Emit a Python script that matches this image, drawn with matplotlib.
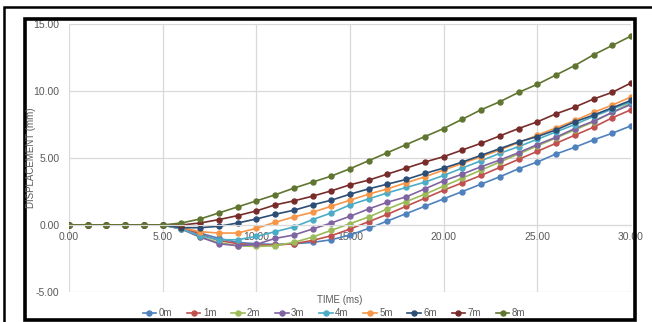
import matplotlib.pyplot as plt
from matplotlib.patches import Rectangle

plt.rcParams['font.family'] = ['Liberation Sans', 'DejaVu Sans']

# time steps (ms)
t = list(range(0, 31))
zeros = [0.0] * 6

d0 = zeros + [-0.15, -0.6, -1.0, -1.3, -1.4, -1.45, -1.4, -1.3, -1.1, -0.75,
              -0.25, 0.3, 0.85, 1.4, 1.95, 2.5, 3.05, 3.6, 4.2, 4.7,
              5.3, 5.8, 6.35, 6.85, 7.4]
d1 = zeros + [-0.2, -0.7, -1.15, -1.4, -1.5, -1.5, -1.4, -1.15, -0.8, -0.3,
              0.25, 0.8, 1.4, 2.0, 2.6, 3.15, 3.7, 4.3, 4.9, 5.5,
              6.1, 6.7, 7.3, 8.0, 8.6]
d2 = zeros + [-0.3, -0.9, -1.3, -1.55, -1.6, -1.55, -1.3, -0.9, -0.4, 0.1,
              0.6, 1.2, 1.75, 2.3, 2.9, 3.5, 4.1, 4.7, 5.3, 5.9,
              6.5, 7.1, 7.7, 8.4, 9.1]
d3 = zeros + [-0.3, -0.9, -1.4, -1.55, -1.45, -1.0, -0.75, -0.3, 0.15, 0.65,
              1.2, 1.7, 2.1, 2.7, 3.3, 3.8, 4.35, 4.85, 5.4, 6.0,
              6.55, 7.2, 7.75, 8.4, 9.0]
d4 = zeros + [-0.3, -0.8, -1.1, -1.1, -0.85, -0.5, -0.15, 0.4, 0.9, 1.5,
              1.95, 2.4, 2.8, 3.2, 3.7, 4.25, 4.8, 5.35, 5.85, 6.4,
              6.95, 7.5, 8.1, 8.65, 9.2]
d5 = zeros + [-0.2, -0.5, -0.6, -0.6, -0.25, 0.2, 0.6, 0.95, 1.4, 1.85,
              2.3, 2.7, 3.15, 3.6, 4.1, 4.6, 5.1, 5.6, 6.15, 6.7,
              7.25, 7.8, 8.4, 8.95, 9.55]
d6 = zeros + [-0.2, -0.2, -0.1, 0.15, 0.45, 0.8, 1.1, 1.5, 1.85, 2.3,
              2.7, 3.05, 3.4, 3.85, 4.25, 4.7, 5.2, 5.7, 6.2, 6.6,
              7.1, 7.7, 8.2, 8.75, 9.3]
d7 = zeros + [0.0, 0.15, 0.4, 0.7, 1.05, 1.5, 1.8, 2.15, 2.55, 3.0,
              3.35, 3.8, 4.25, 4.7, 5.1, 5.6, 6.1, 6.65, 7.2, 7.7,
              8.3, 8.8, 9.4, 9.9, 10.6]
d8 = zeros + [0.15, 0.45, 0.9, 1.35, 1.8, 2.25, 2.75, 3.2, 3.65, 4.2,
              4.8, 5.4, 6.0, 6.6, 7.2, 7.9, 8.6, 9.2, 9.9, 10.5,
              11.2, 11.9, 12.7, 13.4, 14.1]

labels = ['0m', '1m', '2m', '3m', '4m', '5m', '6m', '7m', '8m']
series = [d0, d1, d2, d3, d4, d5, d6, d7, d8]
colors = ['#4F81BD', '#C0504D', '#9BBB59', '#8064A2', '#4BACC6',
          '#F79646', '#2C4D75', '#772C2A', '#5F7530']

W, H = 652, 322
fig = plt.figure(figsize=(W / 100, H / 100), dpi=100)

# black frames around the chart
fig.patches.append(Rectangle((4 / W, -0.05), 1.0, (H - 7) / H + 0.05,
                             transform=fig.transFigure, fill=False,
                             ec='black', lw=1.8))
fig.patches.append(Rectangle((25 / W, 2 / H), (635 - 25) / W, (320 - 19) / H,
                             transform=fig.transFigure, fill=False,
                             ec='black', lw=2.6))

ax = fig.add_axes([69 / W, (H - 292) / H, 562 / W, 268 / H])
for y, lab, c in zip(series, labels, colors):
    ax.plot(t, y, color=c, lw=1.2, marker='o', ms=3.6, label=lab)

ax.set_xlim(0, 30)
ax.set_ylim(-5, 15)
ax.set_xticks(range(0, 31, 5))
ax.set_yticks(range(-5, 16, 5))
ax.xaxis.set_major_formatter(plt.FormatStrFormatter('%.2f'))
ax.yaxis.set_major_formatter(plt.FormatStrFormatter('%.2f'))
ax.grid(True, color='#D9D9D9', lw=0.9)
ax.set_axisbelow(True)
for s in ['top', 'right', 'left']:
    ax.spines[s].set_visible(False)
ax.spines['bottom'].set_position(('data', 0))
ax.spines['bottom'].set_color('#D9D9D9')
ax.tick_params(length=0, labelsize=7.5, labelcolor='#595959')
ax.tick_params(axis='x', pad=5)
ax.tick_params(axis='y', pad=7)

fig.text(31 / W, 1 - 158 / H, 'DISPLACEMENT (mm)', rotation=90,
         ha='center', va='center', fontsize=7, color='#595959')
fig.text(340 / W, 1 - 300 / H, 'TIME (ms)', ha='center', va='center',
         fontsize=7, color='#595959')

leg = fig.legend(loc='center', bbox_to_anchor=(334 / W, 1 - 313 / H), ncol=9,
                 frameon=False, fontsize=7, handlelength=1.4,
                 handletextpad=0.25, columnspacing=1.5, borderpad=0)
for txt in leg.get_texts():
    txt.set_color('#595959')

fig.savefig('out.png', dpi=100)
